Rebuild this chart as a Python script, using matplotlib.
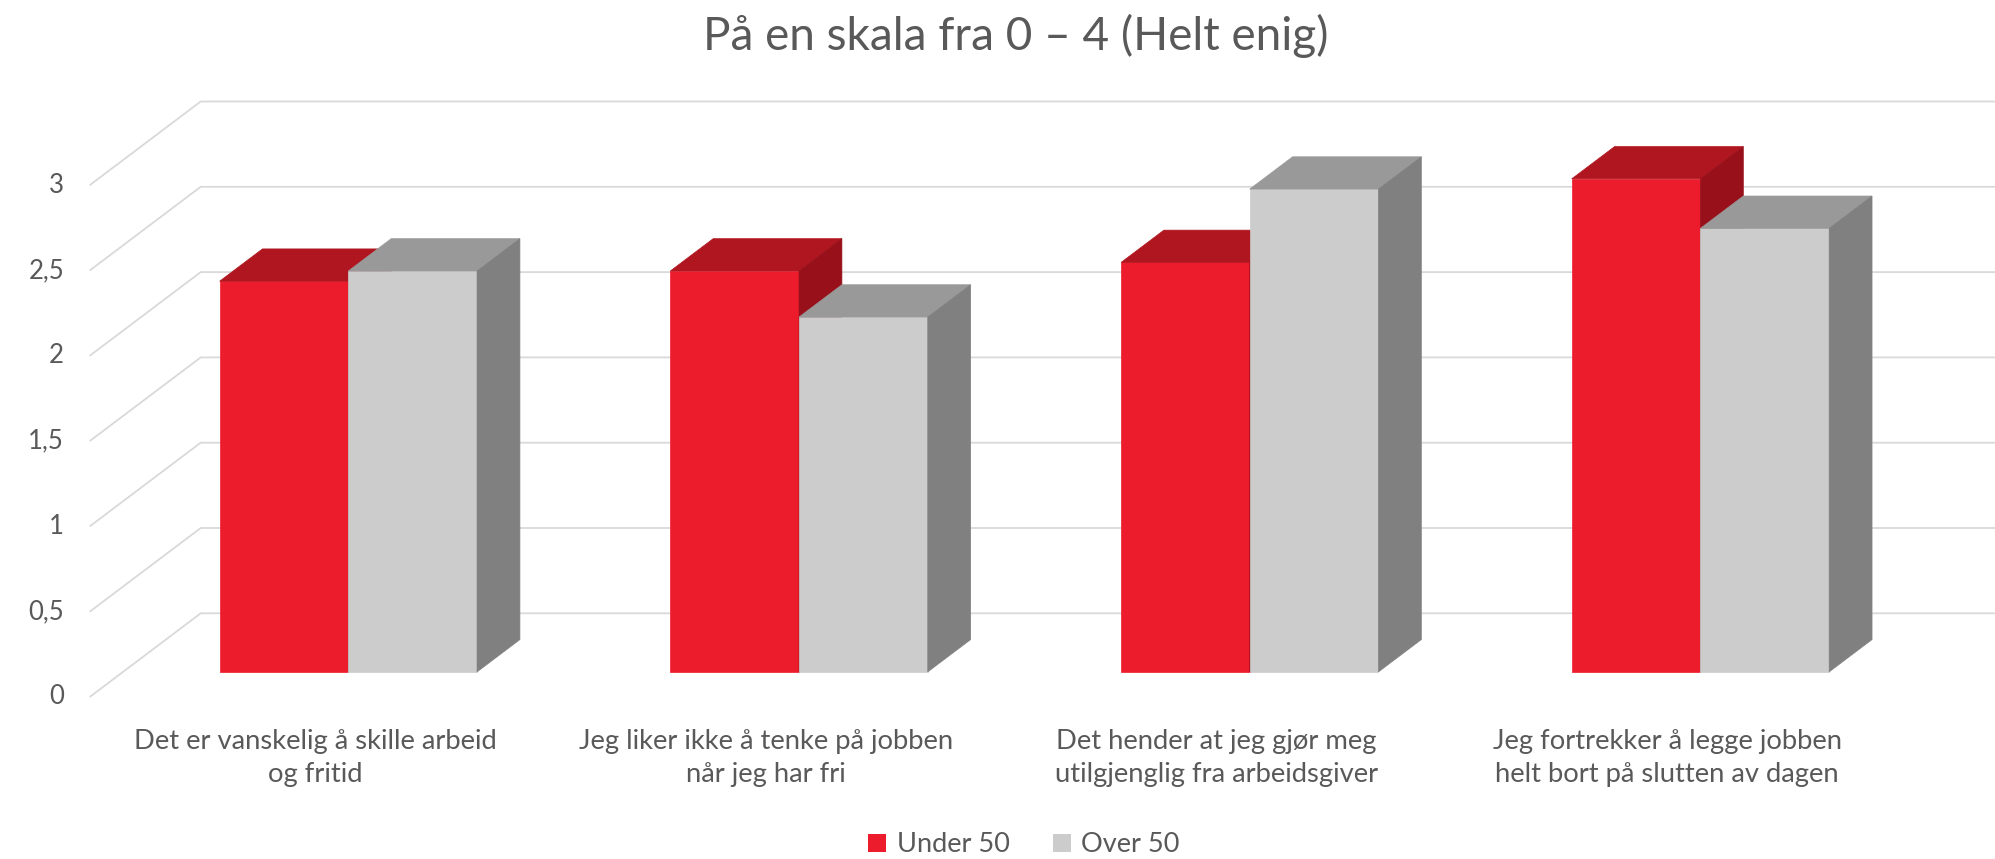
import matplotlib.pyplot as plt
from matplotlib.patches import Polygon, Patch

plt.rcParams['font.family'] = ['Lato', 'DejaVu Sans']

title = "På en skala fra 0 – 4 (Helt enig)"
categories = [
    "Det er vanskelig å skille arbeid\nog fritid",
    "Jeg liker ikke å tenke på jobben\nnår jeg har fri",
    "Det hender at jeg gjør meg\nutilgjenglig fra arbeidsgiver",
    "Jeg fortrekker å legge jobben\nhelt bort på slutten av dagen",
]
series_names = ["Under 50", "Over 50"]
under_50 = [2.29, 2.35, 2.40, 2.89]
over_50 = [2.35, 2.08, 2.83, 2.60]
yticks = [0, 0.5, 1, 1.5, 2, 2.5, 3]
ytick_labels = ["0", "0,5", "1", "1,5", "2", "2,5", "3"]

# front, top, side
red = ("#EC1C2D", "#B0161F", "#98101A")
grey = ("#CCCCCC", "#999999", "#808080")
txt = "#595959"
grid_col = "#D9D9D9"

DX, DY = 0.2463, 0.4906   # depth of the floor, in data units
D0, D1 = 0.30, 0.686      # depth span of the columns
BAR_W = 0.2856

fig = plt.figure(figsize=(19.95, 8.59), dpi=100)
ax = fig.add_axes([0, 0, 1, 1])
ax.set_xlim(-0.199, 4.2274)
ax.set_ylim(-0.9496, 4.0856)
ax.axis('off')

# side wall + back wall gridlines
for v in yticks:
    ax.plot([0, DX, 4.4], [v, v + DY, v + DY], color=grid_col, lw=1.3, zorder=0,
            solid_capstyle='butt')


def column(x0, v, cols):
    fx, fy = x0 + D0 * DX, D0 * DY
    bx, by = x0 + D1 * DX, D1 * DY
    front = [(fx, fy), (fx + BAR_W, fy), (fx + BAR_W, fy + v), (fx, fy + v)]
    top = [(fx, fy + v), (fx + BAR_W, fy + v), (bx + BAR_W, by + v), (bx, by + v)]
    side = [(fx + BAR_W, fy), (bx + BAR_W, by), (bx + BAR_W, by + v), (fx + BAR_W, fy + v)]
    for pts, c in zip([front, top, side], cols):
        ax.add_patch(Polygon(pts, closed=True, facecolor=c, edgecolor=c, lw=0.5, zorder=2))


for i in range(len(categories)):
    column(i + 0.5 - BAR_W, under_50[i], red)
    column(i + 0.5, over_50[i], grey)

for v, lab in zip(yticks, ytick_labels):
    ax.text(-0.057, v, lab, ha='right', va='center', fontsize=18.5, color=txt)

for i, lab in enumerate(categories):
    ax.text(i + 0.5, -0.19, lab, ha='center', va='top', fontsize=19.7,
            color=txt, linespacing=1.37)

fig.text(1016 / 1995, 1 - 49.7 / 859, title, ha='center', va='baseline',
         fontsize=33, color=txt)

handles = [Patch(facecolor=red[0]), Patch(facecolor=grey[0])]
fig.legend(handles, series_names, loc='center', ncol=2, frameon=False,
           bbox_to_anchor=(1024 / 1995, 1 - 845 / 859), fontsize=19.5,
           handlelength=0.65, handleheight=0.65, handletextpad=0.4,
           columnspacing=1.6, labelcolor=txt)

fig.savefig("out.png", dpi=100)
